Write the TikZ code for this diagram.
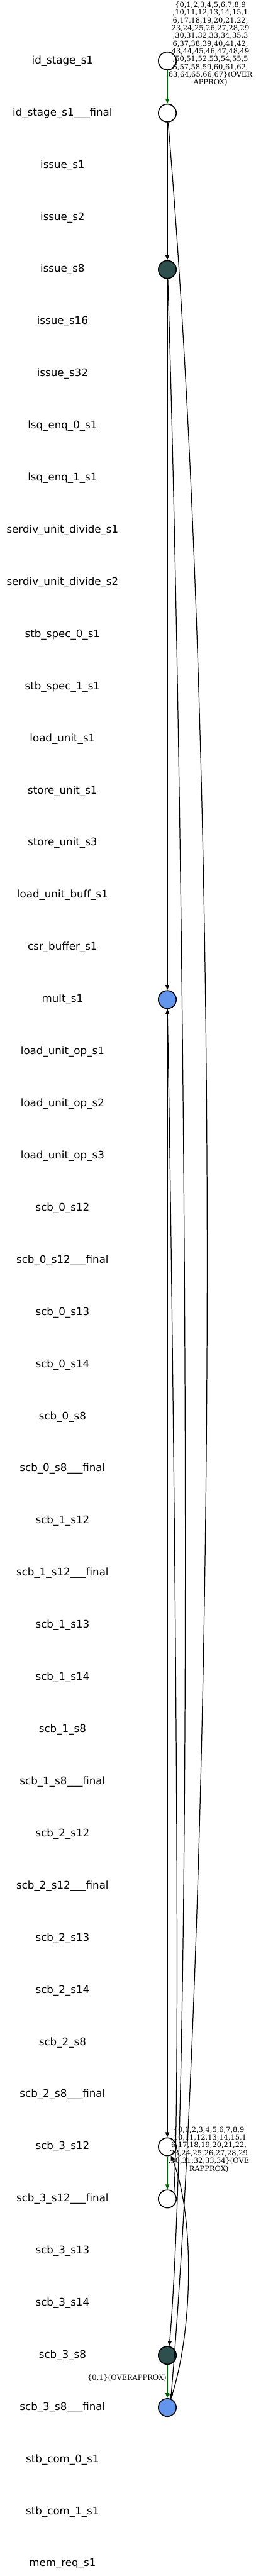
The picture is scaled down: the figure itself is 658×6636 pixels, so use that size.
\documentclass[tikz,border=0pt]{standalone}
\usepackage{fontspec}
\setmainfont{DejaVu Sans}
\newfontfamily\edgefont{DejaVu Serif}
\usetikzlibrary{arrows.meta,calc,positioning}
\definecolor{slatedark}{HTML}{2F4F4F}
\definecolor{cornflower}{HTML}{6495ED}
\definecolor{pathgreen}{HTML}{006400}
\tikzset{
  stage label/.style={font=\fontsize{27}{32}\selectfont,inner sep=0pt},
  uhb vertex/.style={circle,draw=black,line width=2.6pt,minimum size=46pt,
    inner sep=0pt},
  uhb edge/.style={-{Triangle[length=13pt,width=10pt]},line width=2pt},
  path edge/.style={uhb edge,draw=pathgreen,fill=pathgreen},
  edge label/.style={font=\edgefont\fontsize{18.5}{20}\selectfont,
    align=center,inner sep=0pt}
}

\begin{document}
\begin{tikzpicture}[x=1pt,y=-1pt]
  \useasboundingbox (0,0) rectangle (658,6636);
  \coordinate (col) at (431,0);
  % row labels
  \foreach \name [count=\i] in {id\_stage\_s1,id\_stage\_s1\_\_\_final,
      issue\_s1,issue\_s2,issue\_s8,issue\_s16,issue\_s32,lsq\_enq\_0\_s1,
      lsq\_enq\_1\_s1,serdiv\_unit\_divide\_s1,serdiv\_unit\_divide\_s2,
      stb\_spec\_0\_s1,stb\_spec\_1\_s1,load\_unit\_s1,store\_unit\_s1,
      store\_unit\_s3,load\_unit\_buff\_s1,csr\_buffer\_s1,mult\_s1,
      load\_unit\_op\_s1,load\_unit\_op\_s2,load\_unit\_op\_s3,
      scb\_0\_s12,scb\_0\_s12\_\_\_final,scb\_0\_s13,scb\_0\_s14,scb\_0\_s8,
      scb\_0\_s8\_\_\_final,scb\_1\_s12,scb\_1\_s12\_\_\_final,scb\_1\_s13,
      scb\_1\_s14,scb\_1\_s8,scb\_1\_s8\_\_\_final,scb\_2\_s12,
      scb\_2\_s12\_\_\_final,scb\_2\_s13,scb\_2\_s14,scb\_2\_s8,
      scb\_2\_s8\_\_\_final,scb\_3\_s12,scb\_3\_s12\_\_\_final,scb\_3\_s13,
      scb\_3\_s14,scb\_3\_s8,scb\_3\_s8\_\_\_final,stb\_com\_0\_s1,
      stb\_com\_1\_s1,mem\_req\_s1}
    \node[stage label] (row\i) at (161,{157+(\i-1)*134.33}) {\name};

  % events
  \node[uhb vertex] (idstage) at (row1 -| col) {};
  \node[uhb vertex] (idstagefinal) at (row2 -| col) {};
  \node[uhb vertex,fill=slatedark] (issue) at (row5 -| col) {};
  \node[uhb vertex,fill=cornflower] (mult) at (row19 -| col) {};
  \node[uhb vertex] (scbtwelve) at (row41 -| col) {};
  \node[uhb vertex] (scbtwelvefinal) at (row42 -| col) {};
  \node[uhb vertex,fill=slatedark] (scbeight) at (row45 -| col) {};
  \node[uhb vertex,fill=cornflower] (scbeightfinal) at (row46 -| col) {};

  % edges
  \draw[path edge] (idstage) -- (idstagefinal);
  \draw[uhb edge] (idstagefinal) -- (issue);
  \draw[uhb edge] (idstagefinal.-85) .. controls (590,2200) and (540,5000)
    .. (scbeightfinal.68);
  \draw[uhb edge] (issue) -- (mult);
  \draw[uhb edge] (issue.-87) .. controls (482,2300) and (500,5300)
    .. (scbeight.78);
  \draw[uhb edge] (mult) -- (scbtwelve);
  \draw[uhb edge] (scbtwelvefinal.45) .. controls (470,5300) and (440,3000)
    .. (mult.south);
  \draw[path edge] (scbtwelve) -- (scbtwelvefinal);
  \draw[uhb edge] (scbeightfinal.68) .. controls (500,6000) and (500,5700)
    .. (scbtwelve.-68);
  \draw[path edge] (scbeight) -- (scbeightfinal);

  % edge labels
  \node[edge label] (toplabel) at (542,113)
    {\{0,1,2,3,4,5,6,7,8,9\\,10,11,12,13,14,15,1\\6,17,18,19,20,21,22,\\
     23,24,25,26,27,28,29\\,30,31,32,33,34,35,3\\6,37,38,39,40,41,42,\\
     43,44,45,46,47,48,49\\,50,51,52,53,54,55,5\\6,57,58,59,60,61,62,\\
     63,64,65,66,67\}(OVER\\APPROX)};
  \node[edge label] (scblabel) at (538,5537)
    {\{0,1,2,3,4,5,6,7,8,9\\,10,11,12,13,14,15,1\\6,17,18,19,20,21,22,\\
     23,24,25,26,27,28,29\\,30,31,32,33,34\}(OVE\\RAPPROX)};
  \node[edge label,anchor=east] (finallabel) at (429,6125)
    {\{0,1\}(OVERAPPROX)};
\end{tikzpicture}
\end{document}
